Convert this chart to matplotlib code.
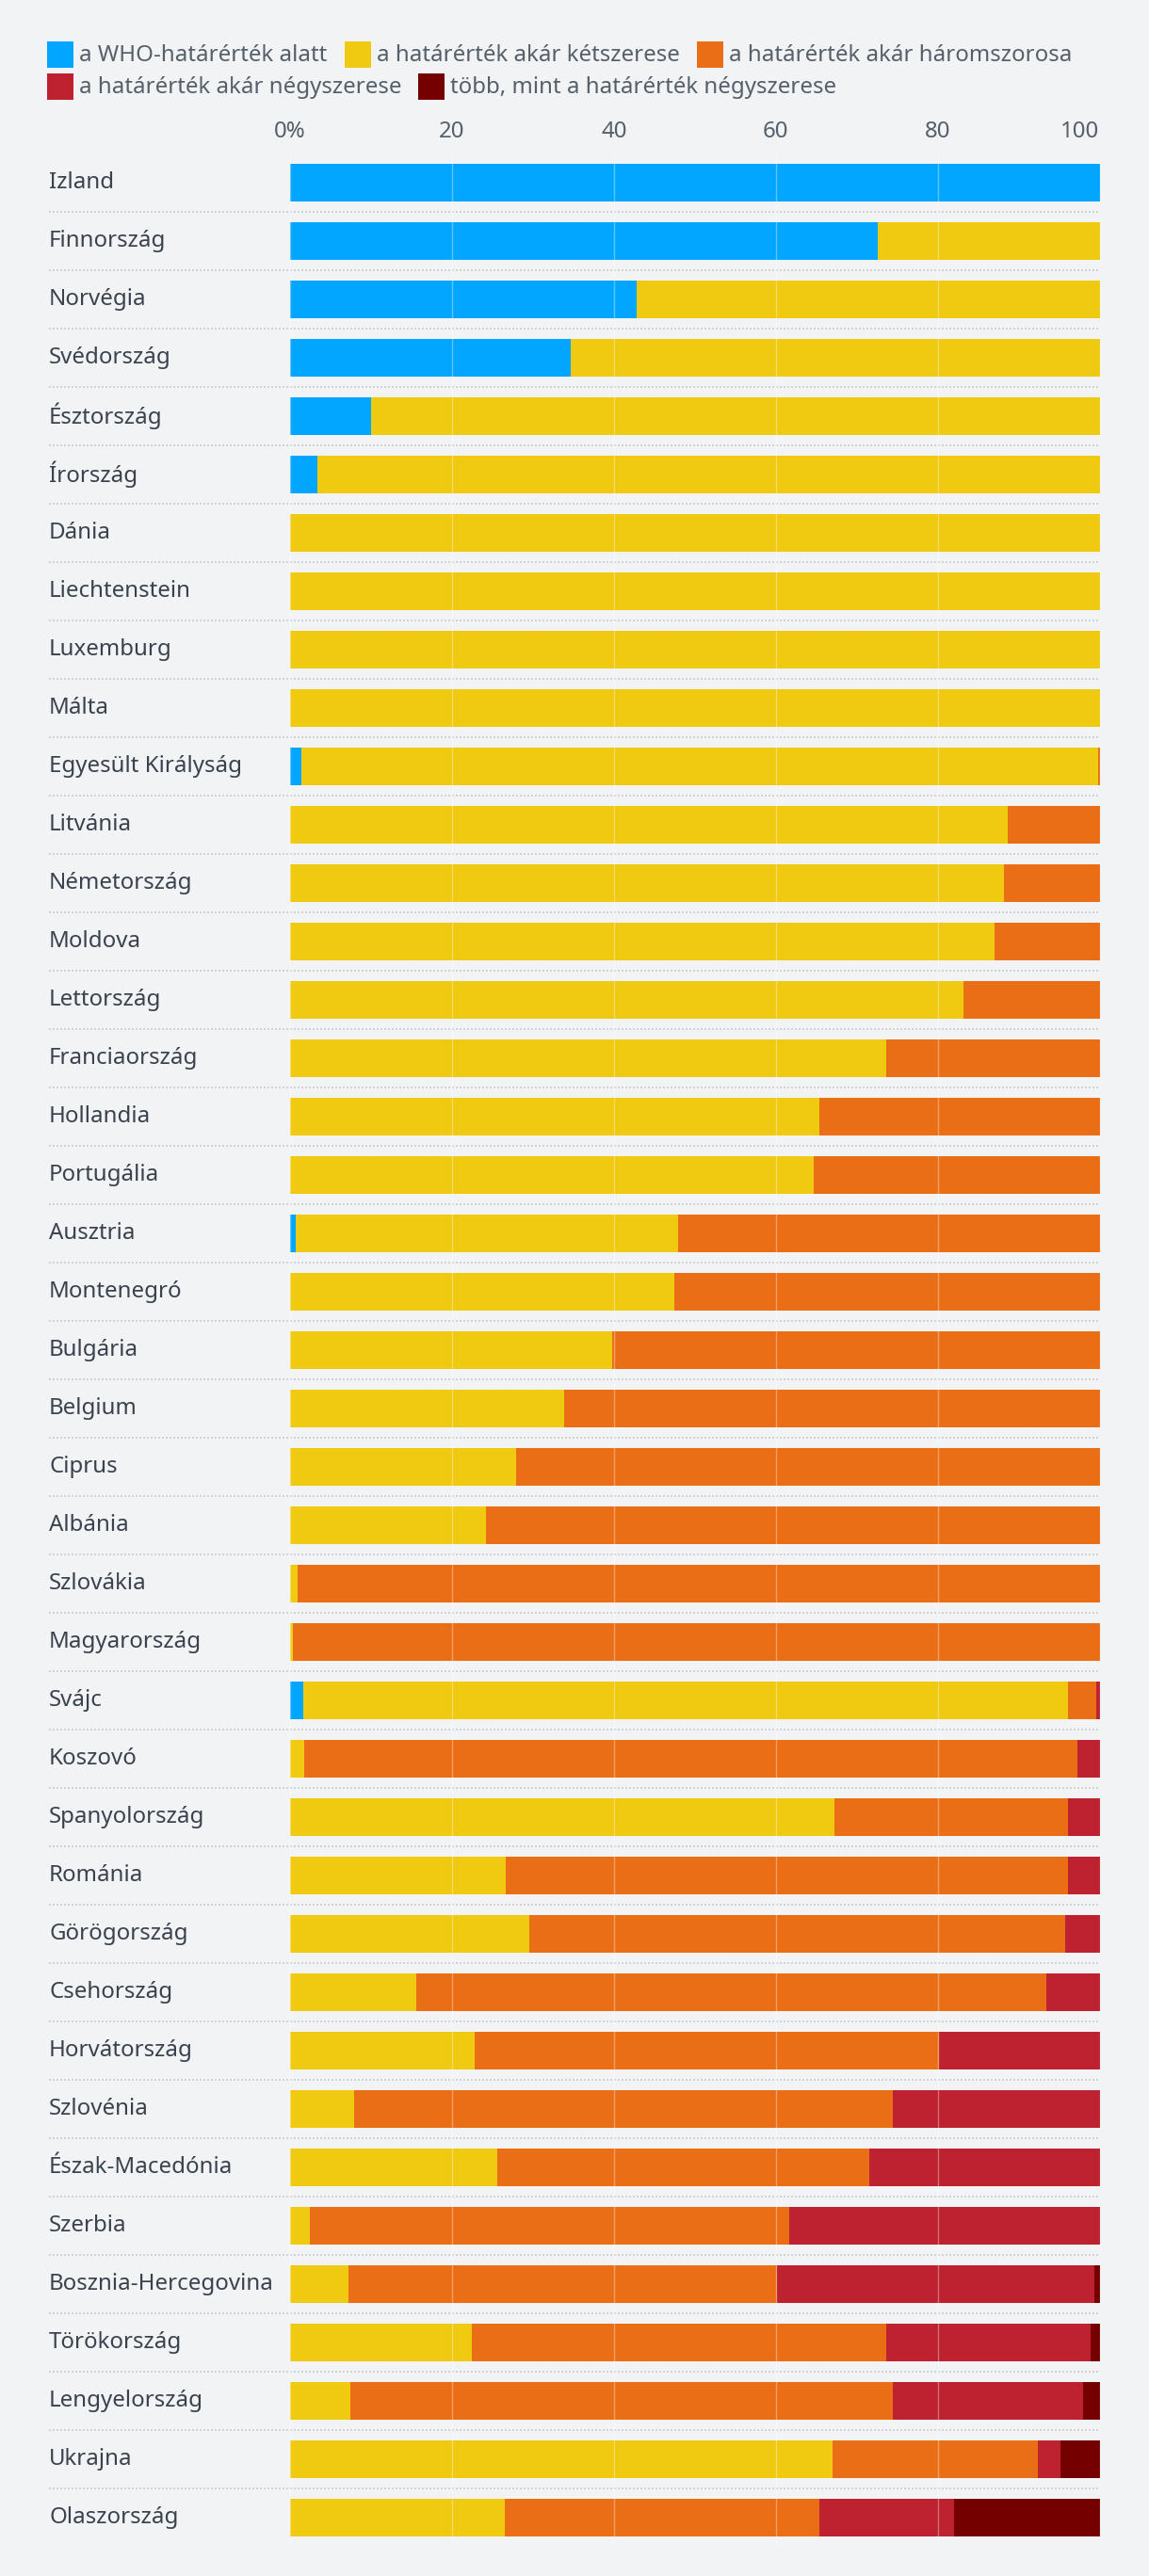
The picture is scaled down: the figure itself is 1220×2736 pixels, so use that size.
import matplotlib
matplotlib.use("Agg")
import matplotlib.pyplot as plt
from matplotlib.patches import Rectangle
import matplotlib.transforms as mtransforms
import numpy as np

plt.rcParams['font.family'] = ['Noto Sans', 'DejaVu Sans']

countries = ["Izland", "Finnország", "Norvégia", "Svédország", "Észtország", "Írország",
             "Dánia", "Liechtenstein", "Luxemburg", "Málta", "Egyesült Királyság",
             "Litvánia", "Németország", "Moldova", "Lettország", "Franciaország",
             "Hollandia", "Portugália", "Ausztria", "Montenegró", "Bulgária", "Belgium",
             "Ciprus", "Albánia", "Szlovákia", "Magyarország", "Svájc", "Koszovó",
             "Spanyolország", "Románia", "Görögország", "Csehország", "Horvátország",
             "Szlovénia", "Észak-Macedónia", "Szerbia", "Bosznia-Hercegovina",
             "Törökország", "Lengyelország", "Ukrajna", "Olaszország"]

below_who = [100, 72.6, 42.8, 34.7, 10.0, 3.4, 0, 0, 0, 0, 1.4,
             0, 0, 0, 0, 0, 0, 0, 0.7, 0, 0, 0, 0, 0, 0, 0, 1.6, 0,
             0, 0, 0, 0, 0, 0, 0, 0, 0, 0, 0, 0, 0]
up_to_2x = [0, 27.4, 57.2, 65.3, 90.0, 96.6, 100, 100, 100, 100, 98.4,
            88.7, 88.2, 87.0, 83.2, 73.6, 65.4, 64.7, 47.2, 47.5, 39.8, 33.8,
            27.9, 24.2, 0.9, 0.4, 94.5, 1.8, 67.3, 26.7, 29.5, 15.6, 22.8,
            7.9, 25.6, 2.5, 7.2, 22.4, 7.4, 67.0, 26.5]
up_to_3x = [0, 0, 0, 0, 0, 0, 0, 0, 0, 0, 0.2,
            11.3, 11.8, 13.0, 16.8, 26.4, 34.6, 35.3, 52.1, 52.5, 60.2, 66.2,
            72.1, 75.8, 99.1, 99.6, 3.5, 95.5, 28.8, 69.4, 66.2, 77.8, 57.4,
            66.6, 45.9, 59.2, 53.0, 51.2, 67.1, 25.4, 38.9]
up_to_4x = [0, 0, 0, 0, 0, 0, 0, 0, 0, 0, 0,
            0, 0, 0, 0, 0, 0, 0, 0, 0, 0, 0,
            0, 0, 0, 0, 0.4, 2.7, 3.9, 3.9, 4.3, 6.6, 19.8,
            25.5, 28.5, 38.3, 39.2, 25.3, 23.5, 2.8, 16.6]
over_4x = [0, 0, 0, 0, 0, 0, 0, 0, 0, 0, 0,
           0, 0, 0, 0, 0, 0, 0, 0, 0, 0, 0,
           0, 0, 0, 0, 0, 0, 0, 0, 0, 0, 0,
           0, 0, 0, 0.6, 1.1, 2.0, 4.8, 18.0]

series_labels = ["a WHO-határérték alatt", "a határérték akár kétszerese",
                 "a határérték akár háromszorosa", "a határérték akár négyszerese",
                 "több, mint a határérték négyszerese"]
colors = ["#02a6fe", "#f0c911", "#ea6e16", "#be212f", "#740000"]
tick_values = [0, 20, 40, 60, 80, 100]
tick_labels = ["0%", "20", "40", "60", "80", "100"]

W, H = 1220, 2736
BG = "#f1f3f5"
FS = 17.3
fig = plt.figure(figsize=(W / 100, H / 100), dpi=100, facecolor=BG)

n = len(countries)
row = 62
first_center = 194
ax_top = first_center - row / 2
ax_bottom = first_center + (n - 1) * row + row / 2
x0, x1 = 308, 1167.5
ax = fig.add_axes([x0 / W, 1 - ax_bottom / H, (x1 - x0) / W, (ax_bottom - ax_top) / H])
ax.set_facecolor(BG)
ax.set_xlim(0, 100)
ax.set_ylim(n - 0.5, -0.5)

y = np.arange(n)
series = [below_who, up_to_2x, up_to_3x, up_to_4x, over_4x]
left = np.zeros(n)
for vals, c in zip(series, colors):
    v = np.array(vals, dtype=float)
    ax.barh(y, v, left=left, height=40 / 62, color=c, linewidth=0, zorder=2)
    left += v

# gridlines over bars
for t in tick_values:
    ax.axvline(t, color="white", alpha=0.35, lw=1, zorder=3)

for s in ax.spines.values():
    s.set_visible(False)
ax.xaxis.tick_top()
ax.set_xticks(tick_values)
ax.set_xticklabels(tick_labels)
ax.tick_params(axis="x", length=0, pad=8, labelsize=FS, labelcolor="#56606a")
xl = ax.get_xticklabels()
xl[-1].set_ha("right")
ax.set_yticks([])

# country labels
trans = mtransforms.blended_transform_factory(fig.transFigure, ax.transData)
for i, name in enumerate(countries):
    ax.text(52 / W, i, name, transform=trans, ha="left", va="center",
            fontsize=FS, color="#3a434d", clip_on=False)

# dotted separators between rows
for i in range(n - 1):
    ax.plot([52 / W, 1167 / W], [i + 0.5, i + 0.5], transform=trans,
            color="#cfd1d4", lw=1.44, linestyle=(0, (1, 1)),
            clip_on=False, zorder=1)

# legend
legend_pos = [(50, 58), (366, 58), (740, 58), (50, 92), (444, 92)]
for (lx, ly), lab, c in zip(legend_pos, series_labels, colors):
    fig.patches.append(Rectangle((lx / W, 1 - (ly + 14) / H), 28 / W, 28 / H,
                                 transform=fig.transFigure, facecolor=c,
                                 edgecolor="none"))
    fig.text((lx + 34) / W, 1 - (ly + 1) / H, lab, ha="left", va="center",
             fontsize=FS, color="#56606a")

fig.savefig("out.png", dpi=100, facecolor=BG)
